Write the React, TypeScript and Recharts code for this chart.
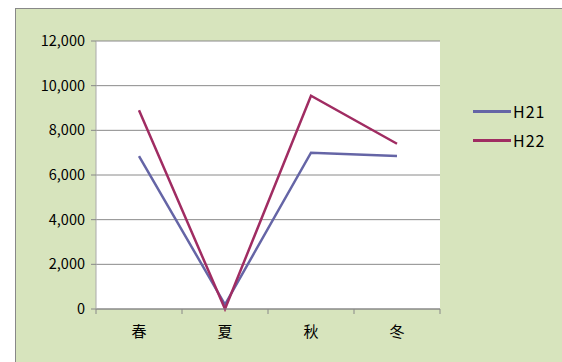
import { LineChart, Line, XAxis, YAxis, CartesianGrid } from "recharts";

const seasons = ["春", "夏", "秋", "冬"];
const h21 = [6850, 200, 7000, 6850];
const h22 = [8900, 0, 9550, 7400];
const yTicks = [0, 2000, 4000, 6000, 8000, 10000, 12000];

const COLORS: Record<string, string> = { H21: "#6565a6", H22: "#a02c62" };
const FONT = "'Noto Sans CJK JP', 'Liberation Sans', sans-serif";

const data = seasons.map((s, i) => ({ season: s, H21: h21[i], H22: h22[i] }));

const W = 562;
const H = 362;
const PLOT_LEFT = 96;
const PLOT_RIGHT = 440;
const BAND = (PLOT_RIGHT - PLOT_LEFT) / seasons.length;

// category labels sit in the middle of each band, tick marks on the band edges
function SeasonTick(props: any) {
  const { x, y, payload, index } = props;
  const half = BAND / 2;
  return (
    <g>
      <line x1={x - half} x2={x - half} y1={y - 8} y2={y - 3} stroke="#888" />
      {index === seasons.length - 1 && (
        <line x1={x + half} x2={x + half} y1={y - 8} y2={y - 3} stroke="#888" />
      )}
      <text x={x} y={y + 20} textAnchor="middle" fontSize={15} fontFamily={FONT} fill="#000">
        {payload.value}
      </text>
    </g>
  );
}

export default function App() {
  return (
    <div style={{ position: "absolute", left: 0, top: 0, width: W, height: H, background: "#fff", overflow: "hidden" }}>
      <div
        style={{
          position: "absolute",
          left: 15,
          top: 8,
          width: W,
          height: H,
          background: "#d7e4bd",
          borderLeft: "1px solid #888",
          borderTop: "1px solid #888",
        }}
      />
      <div style={{ position: "absolute", left: 0, top: 0 }}>
        <LineChart width={W} height={H} data={data} margin={{ top: 41, right: W - PLOT_RIGHT, bottom: 23, left: 16 }}>
          <CartesianGrid vertical={false} stroke="#8a8a8a" fill="#fff" />
          <XAxis
            dataKey="season"
            scale="band"
            axisLine={{ stroke: "#888" }}
            tickLine={false}
            tick={<SeasonTick />}
            height={30}
            interval={0}
          />
          <YAxis
            width={80}
            domain={[0, 12000]}
            ticks={yTicks}
            axisLine={{ stroke: "#aaa" }}
            tickLine={{ stroke: "#888" }}
            tickSize={5}
            tickMargin={6}
            tickFormatter={(v: number) => v.toLocaleString("en-US")}
            tick={{ fill: "#000", fontSize: 14.5, fontFamily: FONT }}
          />
          {["H21", "H22"].map((k) => (
            <Line
              key={k}
              type="linear"
              dataKey={k}
              stroke={COLORS[k]}
              strokeWidth={2.5}
              dot={false}
              activeDot={false}
              isAnimationActive={false}
            />
          ))}
        </LineChart>
      </div>
      {["H21", "H22"].map((k, i) => (
        <div
          key={k}
          style={{
            position: "absolute",
            left: 473,
            top: 99 + i * 29,
            display: "flex",
            alignItems: "center",
            fontFamily: FONT,
            fontSize: 16,
            letterSpacing: 1,
            color: "#000",
          }}
        >
          <span style={{ display: "inline-block", width: 38, height: 3, background: COLORS[k], marginRight: 2 }} />
          <span>{k}</span>
        </div>
      ))}
    </div>
  );
}
